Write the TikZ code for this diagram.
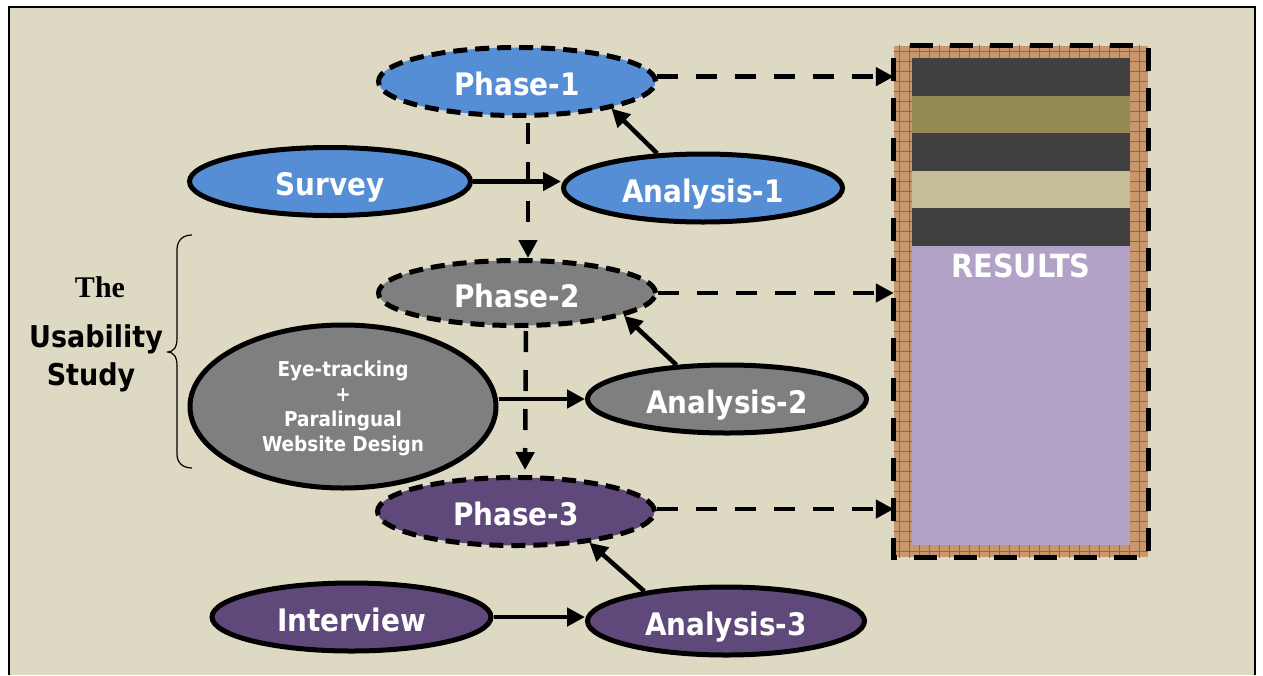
\documentclass[tikz,border=0pt]{standalone}
\usepackage{fontspec}
\newfontfamily\lblfont{DejaVu Sans Condensed}
\newfontfamily\seriffont{Liberation Serif}
\usetikzlibrary{shapes.geometric,arrows.meta}
\definecolor{paper}{HTML}{DDD9C3}
\definecolor{phaseblue}{HTML}{558ED5}
\definecolor{phasegray}{HTML}{7F7F7F}
\definecolor{phasepurple}{HTML}{5F497A}
\definecolor{stripedark}{HTML}{404040}
\definecolor{stripeolive}{HTML}{948A54}
\definecolor{stripetan}{HTML}{C4BD97}
\definecolor{resultlav}{HTML}{B2A2C7}
\definecolor{weave}{HTML}{C8986C}
\definecolor{weaveline}{HTML}{A8602E}
\begin{document}
\begin{tikzpicture}[x=1pt,y=-1pt,
  ovalbase/.style={ellipse, draw=black, line width=5pt, inner sep=0pt, text=white},
  oval/.style={ovalbase, minimum width=279pt, minimum height=68pt, text height=28pt, text depth=0pt,
    font={\lblfont\bfseries\fontsize{31}{36}\selectfont}},
  phaseoval/.style={oval, dash pattern=on 14pt off 8pt, minimum width=277pt, minimum height=68pt},
  arr/.style={line width=4.5pt, -{Triangle[length=18pt,width=18pt]}},
  darr/.style={arr, dash pattern=on 21pt off 18pt},
  sidelabel/.style={inner sep=0pt, text=black, font={\lblfont\bfseries\fontsize{30}{36}\selectfont}}
]
\useasboundingbox (0,0) rectangle (1263,675);
\fill[white] (0,0) rectangle (1263,675);
% page frame
\fill[paper] (8.5,6.5) rectangle (1255,675);
\draw[line width=2pt] (8.5,675) -- (8.5,6.5) -- (1255,6.5) -- (1255,675);

% results panel
\node[inner sep=0pt, minimum width=254pt, minimum height=511pt] (res) at (1021,301.5) {};
\fill[weave] (res.north west) rectangle (res.south east);
\begin{scope}
  \clip (res.north west) rectangle (res.south east);
  \foreach \x in {899,909,...,1149} \draw[weaveline, line width=0.7pt] (\x,40) -- (\x,560);
  \foreach \y in {51,61,...,561} \draw[weaveline, line width=0.7pt] (890,\y) -- (1150,\y);
\end{scope}
\fill[stripedark]  (912,58)  rectangle (1130,96);
\fill[stripeolive] (912,96)  rectangle (1130,133);
\fill[stripedark]  (912,133) rectangle (1130,171);
\fill[stripetan]   (912,171) rectangle (1130,208);
\fill[stripedark]  (912,208) rectangle (1130,246);
\fill[resultlav]   (912,246) rectangle (1130,545);
\node[inner sep=0pt, text=white, font={\lblfont\bfseries\fontsize{32}{36}\selectfont}] (restitle) at (1021,266) {RESULTS};
\draw[line width=5pt, dash pattern=on 23pt off 17pt, dash phase=-12pt] (res.north west) rectangle (res.south east);

% phases and activities
\node[phaseoval, fill=phaseblue] (p1) at (517,81.5) {Phase-1};
\node[oval, fill=phaseblue, minimum width=281pt] (survey) at (330,181.5) {Survey};
\node[oval, fill=phaseblue] (a1) at (703,188) {Analysis-1};

\node[phaseoval, fill=phasegray, minimum height=65pt] (p2) at (517,293) {Phase-2};
\node[ovalbase, fill=phasegray, minimum width=306pt, minimum height=163pt, align=center,
  text depth=0pt, font={\lblfont\bfseries\fontsize{20.5}{25}\selectfont}] (eye) at (343,406.5)
  {Eye-tracking\\+\\Paralingual\\Website Design};
\node[oval, fill=phasegray] (a2) at (727,399) {Analysis-2};

\node[phaseoval, fill=phasepurple] (p3) at (516,511.5) {Phase-3};
\node[oval, fill=phasepurple] (interview) at (351.5,617) {Interview};
\node[oval, fill=phasepurple, minimum width=277pt] (a3) at (726,621) {Analysis-3};

% side label with brace
\node[inner sep=0pt, font={\seriffont\bfseries\fontsize{30}{36}\selectfont}] (the) at (100,287) {The};
\node[sidelabel] (usab) at (96,339) {Usability};
\node[sidelabel] (study) at (91,377) {Study};
\draw[line width=1.2pt] (192,235) .. controls (183,235) and (177,240) .. (177,250)
  -- (177,338) .. controls (177,347) and (174,352) .. (167,352)
  .. controls (174,352) and (177,357) .. (177,366)
  -- (177,454) .. controls (177,463) and (183,468) .. (192,468);

% solid flow arrows
\draw[arr] (survey.east) -- (survey.east -| a1.west);
\draw[arr] (eye.east |- a2.west) -- (a2.west);
\draw[arr] (interview.east) -- (interview.east -| a3.west);
\draw[arr] (a1.143) -- (p1.344);
\draw[arr] (a2.146) -- (p2.348);
\draw[arr] (a3.160) -- (p3.337);

% dashed phase links
\draw[darr, shorten <=5pt] ([xshift=11pt]p1.south) -- ([xshift=11pt]p2.north);
\draw[darr, shorten <=3pt, shorten >=5pt] ([xshift=9pt]p2.south) -- ([xshift=9pt]p3.north);
\draw[darr] (p1.2.7) -- (p1.2.7 -| res.west);
\draw[darr] (p2.east) -- (p2.east -| res.west);
\draw[darr] (p3.1.8) -- (p3.1.8 -| res.west);
\end{tikzpicture}
\end{document}
